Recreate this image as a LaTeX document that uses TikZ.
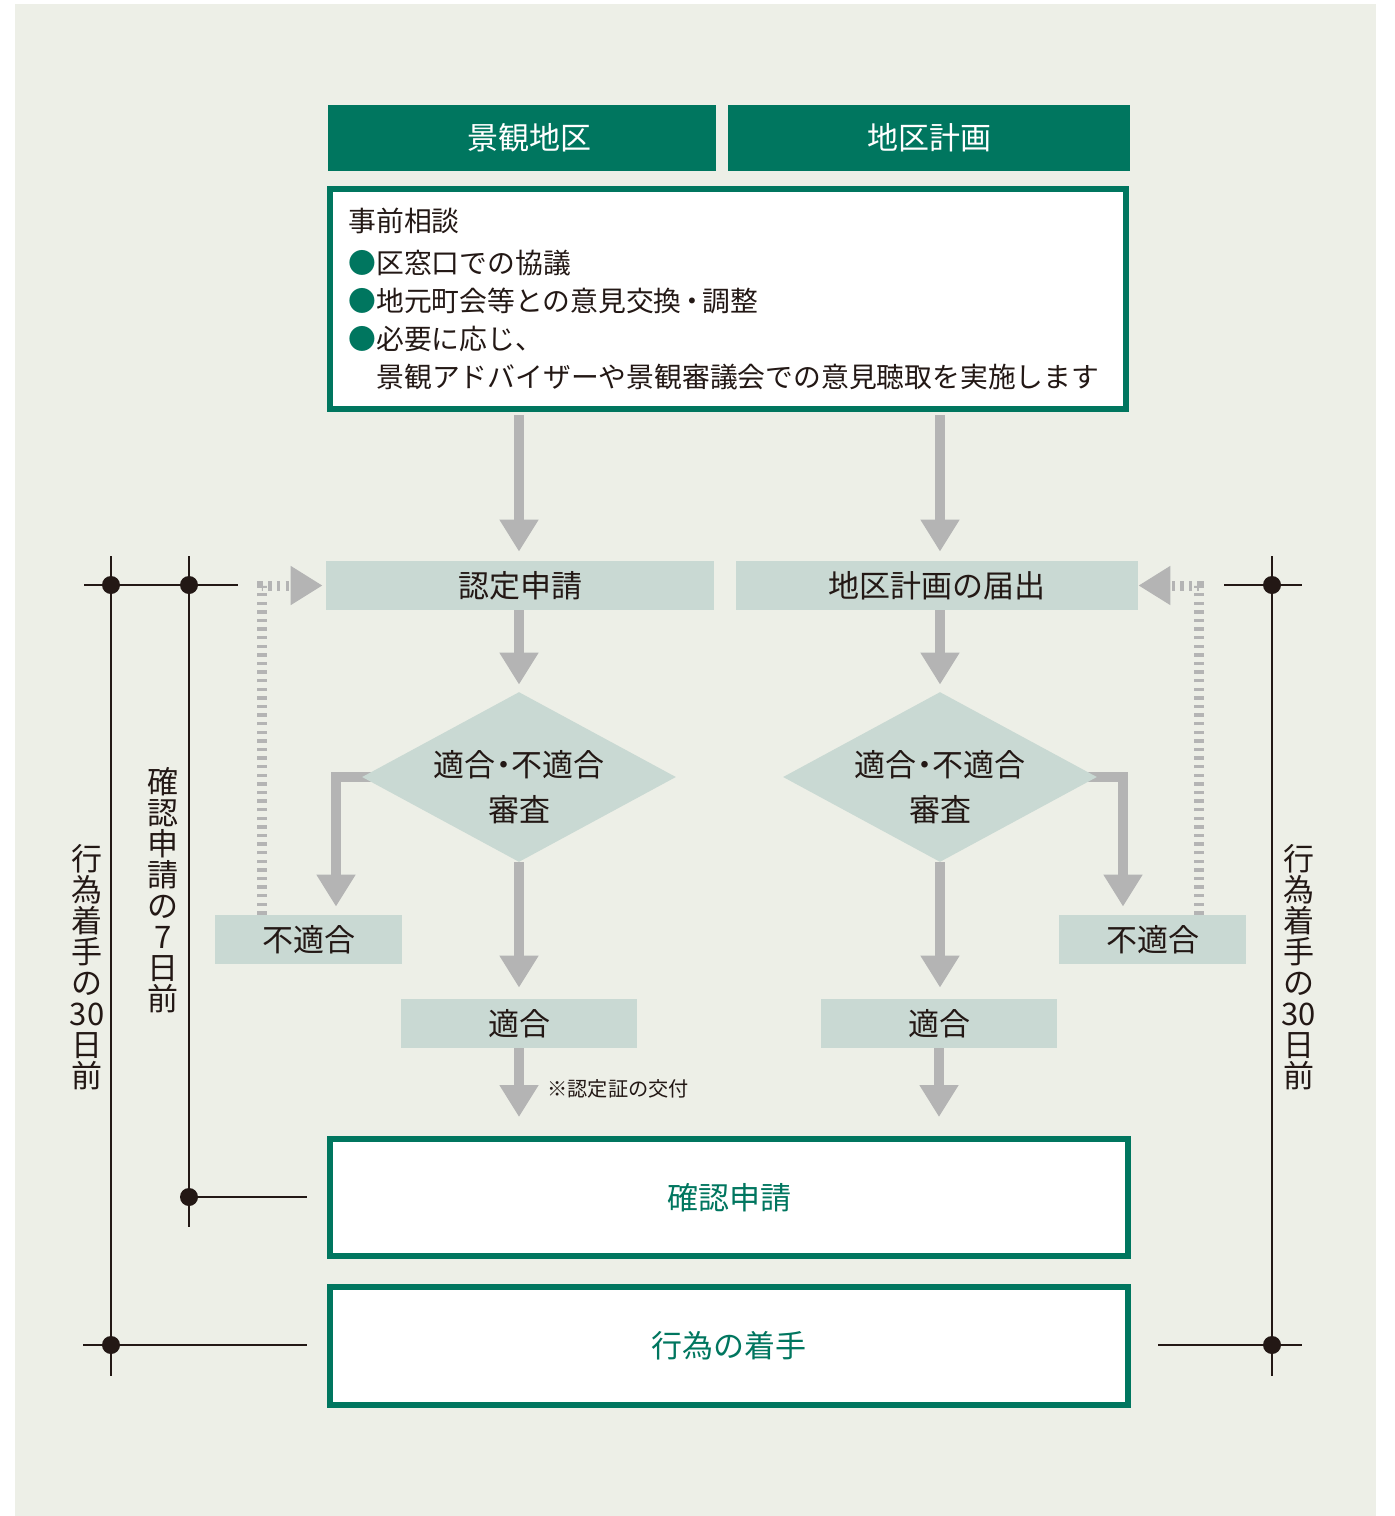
\documentclass[tikz,border=0pt]{standalone}
\usepackage{fontspec}
\setmainfont{Noto Sans CJK JP}
\usetikzlibrary{arrows.meta,shapes.geometric,calc}
\definecolor{tealA}{HTML}{00765F}
\definecolor{paleA}{HTML}{C9D9D3}
\definecolor{bgA}{HTML}{EDEFE7}
\definecolor{grayA}{HTML}{B4B4B4}
\definecolor{inkA}{HTML}{231815}
\pgfdeclarelayer{backlayer}
\pgfdeclarelayer{arrowlayer}
\pgfsetlayers{backlayer,arrowlayer,main}
\tikzset{
  hdr/.style={fill=tealA, text=white, inner sep=0, minimum height=33pt, font=\fontsize{15.5}{18}\selectfont},
  palebox/.style={fill=paleA, text=inkA, inner sep=0, minimum height=24.5pt, font=\fontsize{15.5}{18}\selectfont},
  framebox/.style={draw=tealA, line width=3pt, fill=white, inner sep=0, text=tealA, font=\fontsize{15.5}{18}\selectfont},
  bodytext/.style={text=inkA, inner sep=0, anchor=west, font=\fontsize{13.9}{16}\selectfont},
  bigarrow/.style={draw=grayA, line width=5pt, line join=miter, -{Triangle[width=18.5pt,length=16pt]}},
  fbarrow/.style={draw=grayA, line width=5pt, dash pattern=on 1.7pt off 2.6pt, -{Triangle[width=18.5pt,length=16pt]}},
  timeline/.style={draw=inkA, line width=1pt},
  dotmark/.style={circle, fill=inkA, inner sep=0, minimum size=9pt},
  vtext/.style={align=center, text=inkA, inner sep=0, font=\fontsize{15.5}{15.5}\selectfont},
  decision/.style={diamond, fill=paleA, inner sep=0, minimum width=157pt, minimum height=85pt}
}
\begin{document}
\begin{tikzpicture}[x=0.5pt,y=-0.5pt]
\useasboundingbox (0,0) rectangle (1394,1516);
\begin{pgfonlayer}{backlayer}
\fill[bgA] (15,4) rectangle (1376,1516);
\end{pgfonlayer}

% headers
\node[hdr, minimum width=194pt] (hdrA) at (522,138) {\hspace*{7pt}景観地区};
\node[hdr, minimum width=201pt] (hdrB) at (929,138) {地区計画};

% consultation box
\node[framebox, minimum width=398pt, minimum height=110pt] (cons) at (728,299) {};
\node[bodytext] (l1) at (348,221) {事前相談};
\node[bodytext] (l2) at (348,263) {{\color{tealA}●}区窓口での協議};
\node[bodytext] (l3) at (348,301) {{\color{tealA}●}地元町会等との意見交換\makebox[0.75em]{・}調整};
\node[bodytext] (l4) at (348,339) {{\color{tealA}●}必要に応じ、};
\node[bodytext] (l5) at (376,377.5) {景観アドバイザーや景観審議会での意見聴取を実施します};

% applications
\node[palebox, minimum width=194pt] (ninA) at (520,585.5) {認定申請};
\node[palebox, minimum width=201pt] (ninB) at (937,585.5) {地区計画の届出};

% decisions
\node[decision] (diaA) at (519,777) {};
\node[decision] (diaB) at (940,777) {};
\node[align=center, text=inkA, inner sep=0, font=\fontsize{15.5}{22.5}\selectfont] (diaAt) at (519,787.5) {適合\makebox[0.5em]{・}不適合\\審査};
\node[align=center, text=inkA, inner sep=0, font=\fontsize{15.5}{22.5}\selectfont] (diaBt) at (940,787.5) {適合\makebox[0.5em]{・}不適合\\審査};

% results
\node[palebox, minimum width=93.5pt] (ngA) at (308.5,939.5) {不適合};
\node[palebox, minimum width=93.5pt] (ngB) at (1152.5,939.5) {不適合};
\node[palebox, minimum width=118pt] (okA) at (519,1023.5) {適合};
\node[palebox, minimum width=118pt] (okB) at (939,1023.5) {適合};
\node[text=inkA, inner sep=0, anchor=west, font=\fontsize{10.1}{12}\selectfont] (note) at (547,1089) {※認定証の交付};

% final boxes
\node[framebox, minimum width=399pt, minimum height=58.5pt] (kaku) at (729,1197.5) {確認申請};
\node[framebox, minimum width=399pt, minimum height=59pt] (koui) at (729,1346) {行為の着手};

% vertical texts
\node[vtext] (vL1) at (87,967) {行\\為\\着\\手\\の\\30\\日\\前};
\node[vtext] (vL2) at (163,890) {確\\認\\申\\請\\の\\7\\日\\前};
\node[vtext] (vR) at (1298.5,967) {行\\為\\着\\手\\の\\30\\日\\前};

% arrows
\begin{pgfonlayer}{arrowlayer}
\draw[bigarrow, shorten <=1.5pt, shorten >=4.5pt] (cons.south -| diaA.center) -- (ninA.north -| diaA.center);
\draw[bigarrow, shorten <=1.5pt, shorten >=4.5pt] (cons.south -| diaB.center) -- (ninB.north -| diaB.center);
\draw[bigarrow, shorten >=3.5pt] (ninA.south -| diaA.center) -- (diaA.north);
\draw[bigarrow, shorten >=3.5pt] (ninB.south -| diaB.center) -- (diaB.north);
\draw[bigarrow, shorten >=5.5pt] (diaA.south) -- (okA.north -| diaA.south);
\draw[bigarrow, shorten >=5.5pt] (diaB.south) -- (okB.north -| diaB.south);
\draw[bigarrow, shorten >=9.5pt] (okA.south) -- (kaku.north -| okA.south);
\draw[bigarrow, shorten >=9.5pt] (okB.south) -- (kaku.north -| okB.south);
\draw[bigarrow, shorten >=4pt] ([xshift=8pt]diaA.west) -| ([xshift=13.75pt]ngA.north);
\draw[bigarrow, shorten >=4pt] ([xshift=-8pt]diaB.east) -| ([xshift=-14.75pt]ngB.north);
\draw[fbarrow, shorten >=1.5pt] ([xshift=-23.25pt]ngA.north) |- (ninA.west);
\draw[fbarrow] ([xshift=23pt]ngB.north) |- (ninB.east);
\end{pgfonlayer}

% timelines
\coordinate (oT) at (111,556); \coordinate (oB) at (111,1376);
\coordinate (iT) at (189,556); \coordinate (iB) at (189,1227);
\coordinate (hTl) at (84,585); \coordinate (hTr) at (238,585);
\coordinate (hMl) at (189,1197); \coordinate (hMr) at (307,1197);
\coordinate (hBl) at (83,1345); \coordinate (hBr) at (307,1345);
\coordinate (rT) at (1272,556); \coordinate (rB) at (1272,1376);
\coordinate (rTl) at (1224,585); \coordinate (rTr) at (1302,585);
\coordinate (rBl) at (1158,1345); \coordinate (rBr) at (1302,1345);
\draw[timeline] (oT) -- (oB);
\draw[timeline] (iT) -- (iB);
\draw[timeline] (hTl) -- (hTr);
\draw[timeline] (hMl) -- (hMr);
\draw[timeline] (hBl) -- (hBr);
\draw[timeline] (rT) -- (rB);
\draw[timeline] (rTl) -- (rTr);
\draw[timeline] (rBl) -- (rBr);
\node[dotmark] (d1) at (111,585) {};
\node[dotmark] (d2) at (189,585) {};
\node[dotmark] (d3) at (189,1197) {};
\node[dotmark] (d4) at (111,1345) {};
\node[dotmark] (d5) at (1272,585) {};
\node[dotmark] (d6) at (1272,1345) {};
\end{tikzpicture}
\end{document}
